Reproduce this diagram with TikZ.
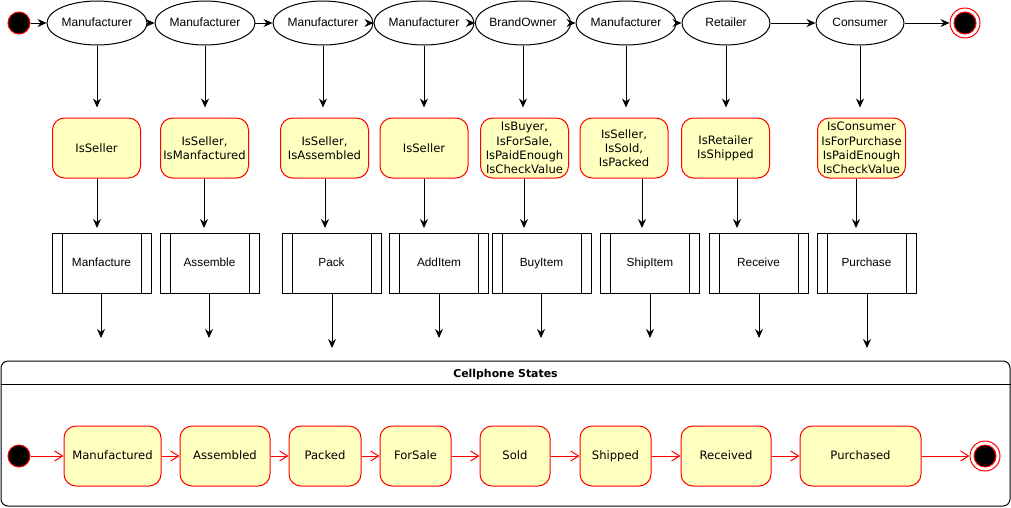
\documentclass[tikz,border=0pt]{standalone}
\usepackage{fontspec}
\setmainfont{Liberation Sans}
\newfontfamily\dejavu{DejaVu Sans}
\usetikzlibrary{arrows.meta,shapes.geometric}
\definecolor{stateFill}{HTML}{FFFFC0}
\begin{document}
\begin{tikzpicture}
[x=1pt,y=-1pt,
  flowDecorate/.style={-{Stealth[length=9pt,width=8pt,inset=3pt]},line width=1pt},%
  transDecorate/.style={-{Straight Barb[length=8pt,width=10pt]},line width=1pt,red},%
  actorDecorate/.style={shape=ellipse,draw,line width=1pt,minimum width=88pt,minimum height=44pt,inner sep=0pt,text height=9pt,text depth=3pt,font=\fontsize{12}{14}\selectfont},%
  guardDecorate/.style={shape=rectangle,rounded corners=12pt,draw=red,fill=stateFill,line width=1pt,minimum width=88pt,minimum height=60pt,inner sep=0pt,align=center,font=\dejavu\fontsize{11.6}{14.3}\selectfont},%
  processDecorate/.style={shape=rectangle,draw,line width=1pt,outer sep=0pt,minimum width=99pt,minimum height=60pt,text height=9pt,text depth=3pt,font=\fontsize{11.8}{14}\selectfont},%
  stateDecorate/.style={shape=rectangle,rounded corners=12pt,draw=red,fill=stateFill,line width=1pt,minimum height=60pt,inner sep=0pt,text height=9pt,text depth=3pt,font=\dejavu\fontsize{11.6}{14}\selectfont},%
  initDecorate/.style={shape=circle,draw=red,fill=black,line width=1pt,minimum size=22pt,inner sep=0pt},%
  finalDecorate/.style={shape=circle,draw=red,fill=white,line width=1pt,minimum size=30pt,inner sep=0pt}]
\useasboundingbox (0,0) rectangle (1011,507);
%% actors, guards and functions
\node (init) at (19,23) [initDecorate] {};
\node (final) at (965,23) [finalDecorate] {};
\node (finalDot) at (final) [initDecorate] {};
\foreach \i/\ex/\actor/\gx/\guard/\ax/\px/\proc/\dx/\dy in {
  1/97/Manufacturer/96.5/IsSeller/97/101.5/Manfacture/101/338,
  2/205/Manufacturer/204.5/{IsSeller,\\IsManfactured}/204/209.5/Assemble/209/338,
  3/323/Manufacturer/324.5/{IsSeller,\\IsAssembled}/325/331.5/Pack/332/348,
  4/424/Manufacturer/424/IsSeller/424/439/AddItem/439/338,
  5/523/BrandOwner/524.5/{IsBuyer,\\IsForSale,\\IsPaidEnough\\IsCheckValue}/524/541.5/BuyItem/541/338,
  6/626/Manufacturer/624/{IsSeller,\\IsSold,\\IsPacked}/642/650/ShipItem/650/338,
  7/726/Retailer/725.5/{IsRetailer\\IsShipped}/737/758.5/Receive/759/338,
  8/860/Consumer/861.5/{IsConsumer\\IsForPurchase\\IsPaidEnough\\IsCheckValue}/856/866.5/Purchase/867/348}
{
  \node (e\i) at (\ex,23) [actorDecorate] {\actor};
  \node (g\i) at (\gx,148) [guardDecorate] {\guard};
  \node (p\i) at (\px,263) [processDecorate] {\proc};
  \draw[line width=1pt] ([xshift=10pt]p\i.north west) -- ([xshift=10pt]p\i.south west);
  \draw[line width=1pt] ([xshift=-10pt]p\i.north east) -- ([xshift=-10pt]p\i.south east);
  \coordinate (t\i) at (\ax,228);
  \coordinate (d\i) at (\dx,\dy);
  \draw[flowDecorate,shorten >=10pt] (e\i) -- (e\i |- g\i.north);
  \draw[flowDecorate] (g\i.south -| t\i) -- (t\i);
  \draw[flowDecorate] (p\i.south -| d\i) -- (d\i);
}
%% top flow
\foreach \startnode/\endnode in {
  init/e1, e1/e2, e2/e3, e3/e4, e4/e5, e5/e6, e6/e7, e7/e8, e8/final}
{
  \draw[flowDecorate] (\startnode) -- (\endnode);
}
%% cellphone states
\node (frame) at (505.5,433.5) [draw,line width=1pt,rounded corners=7pt,minimum width=1009pt,minimum height=145pt] {};
\coordinate (hdr) at (0,384);
\draw[line width=1pt] (frame.west |- hdr) -- (frame.east |- hdr);
\node (title) at (505.5,374) [font=\dejavu\bfseries\fontsize{10.9}{13}\selectfont] {Cellphone States};
\node (binit) at (19,456) [initDecorate] {};
\foreach \nodename/\x/\w in {
  Manufactured/112.5/97, Assembled/225/90, Packed/325/72, ForSale/415.5/71,
  Sold/515/70, Shipped/615.5/71, Received/726/90, Purchased/860.5/121}
{
  \node (\nodename) at (\x,456) [stateDecorate,minimum width=\w pt] {\nodename};
}
\node (bfinal) at (985,456) [finalDecorate] {};
\node (bfinalDot) at (bfinal) [initDecorate] {};
\foreach \startnode/\endnode in {
  binit/Manufactured, Manufactured/Assembled, Assembled/Packed, Packed/ForSale,
  ForSale/Sold, Sold/Shipped, Shipped/Received, Received/Purchased, Purchased/bfinal}
{
  \draw[transDecorate] (\startnode) -- (\endnode);
}
\end{tikzpicture}
\end{document}
